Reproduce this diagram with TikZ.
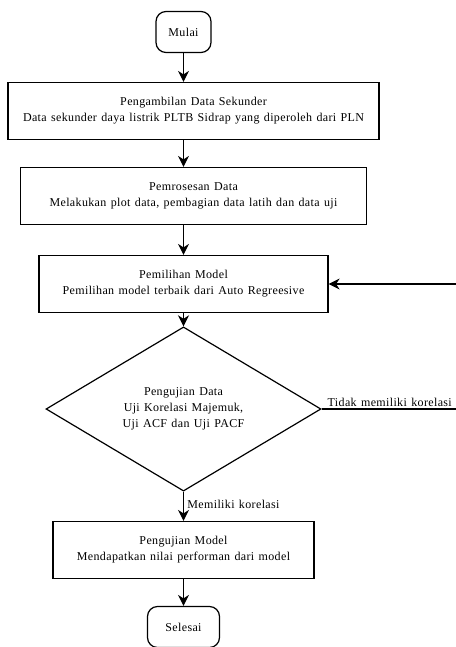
\documentclass[tikz,border=0pt]{standalone}
\usepackage{fontspec}
\setmainfont[LetterSpace=3, WordSpace=1.3]{Liberation Serif}
\usetikzlibrary{arrows,arrows.meta}
\usetikzlibrary{shapes}

\begin{document}
\begin{tikzpicture}[x=1pt, y=1pt, node distance=80pt, auto]
    \tikzstyle{every node}=[font=\fontsize{12}{16}\selectfont]
    \tikzstyle{terminal} = [rectangle, draw, line width=1.2pt, rounded corners=10pt, minimum height=41pt, text centered]
    \tikzstyle{block}    = [rectangle, draw, line width=1.2pt, minimum height=57pt, align=center]
    \tikzstyle{decision} = [diamond, draw, line width=1.2pt, minimum width=275pt, minimum height=138pt, inner sep=0pt, align=center]
    \tikzstyle{line}     = [draw, line width=1.2pt, -{Stealth[length=11pt, width=11pt, inset=3.5pt]}]

    \useasboundingbox (0,0) rectangle (455,-647);

    % Place nodes
    \node [terminal, minimum width=55pt] (start) at (183.5,-32) {Mulai};
    \node [block, below of=start, xshift=10pt, minimum width=371pt, node distance=79pt] (collect) {Pengambilan Data Sekunder\\Data sekunder daya listrik PLTB Sidrap yang diperoleh dari PLN};
    \node [block, below of=collect, minimum width=346pt, node distance=85pt] (process) {Pemrosesan Data\\Melakukan plot data, pembagian data latih dan data uji};
    \node [block, below of=process, xshift=-10pt, minimum width=289pt, node distance=88pt] (model) {Pemilihan Model\\Pemilihan model terbaik dari Auto Regreesive};
    \node [decision, below of=model, node distance=125pt] (test) {Pengujian Data\\Uji Korelasi Majemuk,\\Uji ACF dan Uji PACF};
    \node [block, below of=test, minimum width=261pt, node distance=141pt] (evaluate) {Pengujian Model\\Mendapatkan nilai performan dari model};
    \node [terminal, below of=evaluate, minimum width=72pt, node distance=77pt] (stop) {Selesai};

    % Feedback (runs past the right edge)
    \coordinate (back) at (464,-409);
    \node [anchor=south east, inner sep=2pt] (nocorr) at (454,-409) {Tidak memiliki korelasi};

    \path [line] (start) -- (start |- collect.north);
    \path [line] (start |- collect.south) -- (start |- process.north);
    \path [line] (start |- process.south) -- (model);
    \path [line] (model) -- (test);
    \path [line] (test) -- node [right, pos=0.45] (yescorr) {Memiliki korelasi} (evaluate);
    \path [line] (evaluate) -- (stop);
    \path [line] (test.east) -- (back) |- (model.east);
\end{tikzpicture}
\end{document}
